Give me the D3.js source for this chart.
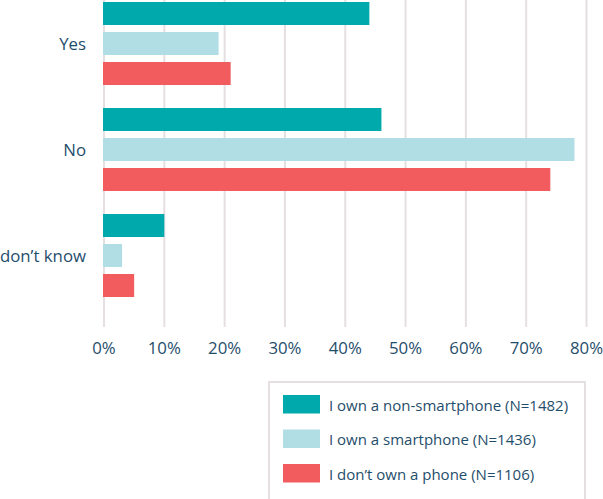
<!DOCTYPE html>
<html>
<head>
<meta charset="utf-8">
<script src="https://cdn.jsdelivr.net/npm/d3@7"></script>
<style>
  body { margin: 0; background: #fff; }
  text { font-family: "Open Sans", "Noto Sans", sans-serif; fill: #1f4e6b; }
</style>
</head>
<body>
<div id="chart"></div>
<script>
// data
var categories = ["Yes", "No", "I don\u2019t know"];
var seriesNames = ["I own a non-smartphone (N=1482)", "I own a smartphone (N=1436)", "I don\u2019t own a phone (N=1106)"];
var seriesColors = ["#00a9ac", "#b0dee4", "#f25c5e"];
var nonSmartphone = [44, 46, 10];
var smartphone = [19, 78, 3];
var noPhone = [21, 74, 5];
var tickValues = [0, 10, 20, 30, 40, 50, 60, 70, 80];

var seriesValues = [nonSmartphone, smartphone, noPhone];

var W = 603, H = 499;
var margin = {left: 104, top: 0};
var width = 482.5, plotBottom = 327;

var svg = d3.select("#chart")
  .append("svg")
    .attr("width", W)
    .attr("height", H);

var g = svg.append("g")
  .attr("transform", "translate(" + margin.left + "," + margin.top + ")");

// scales
var x = d3.scaleLinear().domain([0, 80]).range([0, width]);
var y0 = d3.scaleBand().domain(categories).range([-9.5, 308.5]);
var y1 = d3.scaleBand().domain(d3.range(3)).range([0, y0.bandwidth()])
  .paddingInner(0.233).paddingOuter(0.383);

// gridlines
g.append("g")
  .selectAll("line")
  .data(tickValues)
  .enter()
  .append("line")
    .attr("x1", function(d) { return x(d); })
    .attr("x2", function(d) { return x(d); })
    .attr("y1", 0)
    .attr("y2", plotBottom)
    .attr("stroke", "#e6dfe2")
    .attr("stroke-width", 2);

// bars
var groups = g.selectAll(".grp")
  .data(categories)
  .enter()
  .append("g")
    .attr("transform", function(d) { return "translate(0," + y0(d) + ")"; });

groups.selectAll("rect")
  .data(function(d, i) { return seriesValues.map(function(s, k) { return {k: k, v: s[i]}; }); })
  .enter()
  .append("rect")
    .attr("x", x(0) - 1)
    .attr("y", function(d) { return y1(d.k); })
    .attr("width", function(d) { return x(d.v) - x(0) + 1; })
    .attr("height", y1.bandwidth())
    .attr("fill", function(d) { return seriesColors[d.k]; });

// category labels
g.append("g")
  .selectAll("text")
  .data(categories)
  .enter()
  .append("text")
    .attr("x", -18)
    .attr("y", function(d) { return y0(d) + y0.bandwidth() / 2; })
    .attr("text-anchor", "end")
    .attr("dominant-baseline", "central")
    .style("font-size", "16.8px")
    .text(function(d) { return d; });

// x tick labels
g.append("g")
  .selectAll("text")
  .data(tickValues)
  .enter()
  .append("text")
    .attr("x", function(d) { return x(d); })
    .attr("y", 347)
    .attr("text-anchor", "middle")
    .attr("dominant-baseline", "central")
    .style("font-size", "16.8px")
    .text(function(d) { return d + "%"; });

// legend
var legend = svg.append("g").attr("transform", "translate(269,382)");
legend.append("rect")
  .attr("x", 0).attr("y", 0)
  .attr("width", 316).attr("height", 130)
  .attr("fill", "none")
  .attr("stroke", "#e6dfe2")
  .attr("stroke-width", 2);

var items = legend.selectAll(".item")
  .data(seriesNames)
  .enter()
  .append("g")
    .attr("transform", function(d, i) { return "translate(14," + (13 + i * 34.5) + ")"; });

items.append("rect")
  .attr("width", 37).attr("height", 18.5)
  .attr("fill", function(d, i) { return seriesColors[i]; });

items.append("text")
  .attr("x", 46)
  .attr("y", 9.5)
  .attr("dominant-baseline", "central")
  .style("font-size", "15px")
  .text(function(d) { return d; });
</script>
</body>
</html>
